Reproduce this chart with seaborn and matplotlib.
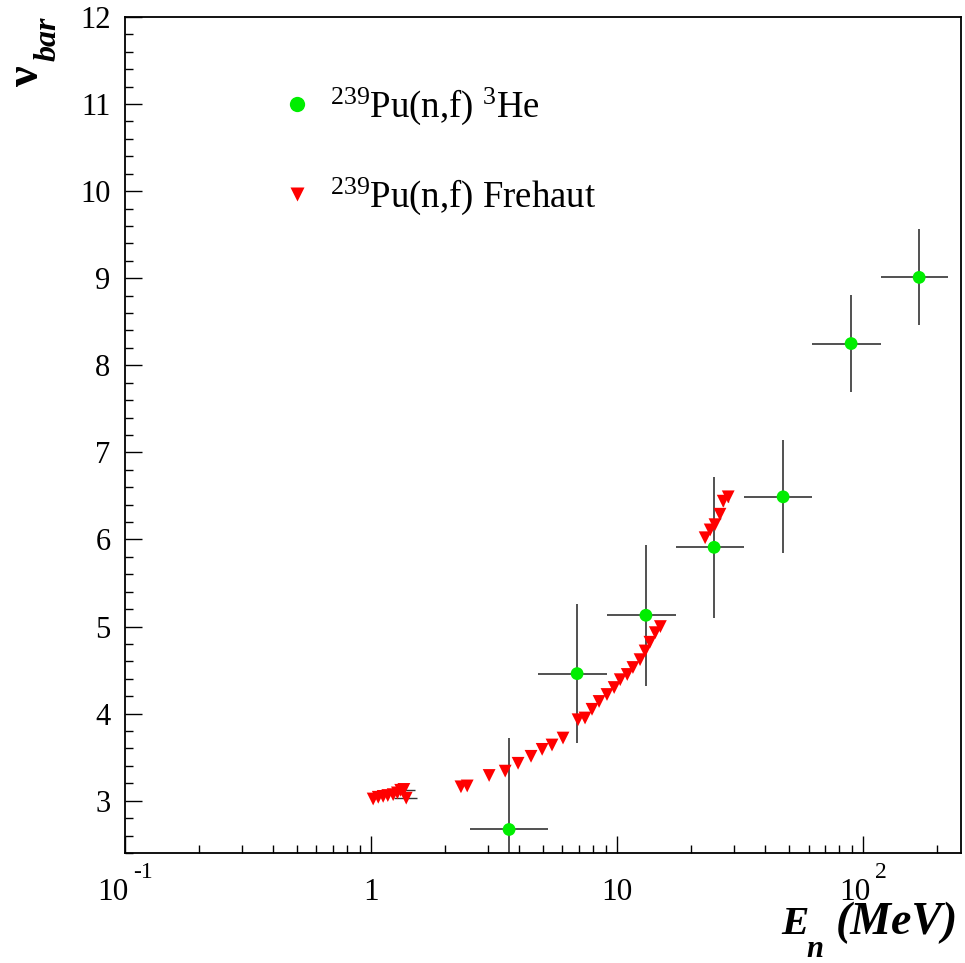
import numpy as np
import pandas as pd
import seaborn as sns
import matplotlib
matplotlib.use("Agg")
import matplotlib.pyplot as plt
import matplotlib.transforms as mtransforms
from matplotlib.lines import Line2D
from matplotlib.ticker import FixedLocator, LogLocator, MultipleLocator, NullFormatter

# ---------------- data ----------------
he3_E = [3.64, 6.88, 13.1, 24.8, 47.3, 89.4, 169.0]
he3_E_lo = [2.53, 4.77, 9.10, 17.4, 32.8, 62.1, 118.0]
he3_E_hi = [5.24, 9.10, 17.4, 32.8, 62.1, 118.0, 222.0]
he3_nu = [2.67, 4.46, 5.13, 5.91, 6.49, 8.25, 9.01]
he3_nu_err = [1.05, 0.80, 0.81, 0.81, 0.65, 0.56, 0.55]

fre_E = [1.02, 1.07, 1.12, 1.17, 1.23, 1.28, 1.32, 1.36, 1.39,
         2.32, 2.46, 3.02, 3.51, 3.96, 4.47, 4.96, 5.44, 6.03,
         6.94, 7.41, 7.91, 8.45, 9.10, 9.73, 10.3, 11.0, 11.6,
         12.4, 13.0, 13.6, 14.3, 15.0,
         22.8, 23.9, 25.0, 26.2, 27.0, 28.3]
fre_nu = [3.02, 3.04, 3.05, 3.06, 3.07, 3.09, 3.12, 3.13, 3.03,
          3.16, 3.17, 3.29, 3.34, 3.43, 3.51, 3.59, 3.64, 3.72,
          3.93, 3.95, 4.05, 4.14, 4.22, 4.30, 4.39, 4.45, 4.53,
          4.62, 4.72, 4.82, 4.93, 5.00,
          6.02, 6.11, 6.17, 6.29, 6.44, 6.49]
# a few Frehaut points carry small visible error bars
fre_err_E = [1.36, 1.39, 26.2, 27.0, 28.3]
fre_err_nu = [3.12, 3.03, 6.29, 6.44, 6.49]
fre_err_dE = [0.15, 0.15, 0.0, 0.0, 0.0]
fre_err_dnu = [0.0, 0.0, 0.06, 0.06, 0.06]

series_labels = [r"$^{239}$Pu(n,f) $^{3}$He", r"$^{239}$Pu(n,f) Frehaut"]

xtick_vals = [0.1, 1, 10, 100]
xtick_base = ["10", "1", "10", "10"]
xtick_exp = ["-1", "", "", "2"]
ytick_vals = [3, 4, 5, 6, 7, 8, 9, 10, 11, 12]

# ---------------- style ----------------
sns.set_style("ticks")
plt.rcParams["font.family"] = ["Liberation Serif", "DejaVu Serif"]
plt.rcParams["mathtext.fontset"] = "custom"
plt.rcParams["mathtext.rm"] = "Liberation Serif"
plt.rcParams["mathtext.it"] = "Liberation Serif:italic"
plt.rcParams["mathtext.bf"] = "Liberation Serif:bold"
plt.rcParams["text.color"] = "black"
plt.rcParams["xtick.color"] = "black"
plt.rcParams["ytick.color"] = "black"

W, H = 965, 963
fig = plt.figure(figsize=(W / 100, H / 100), dpi=100)
fig.patch.set_facecolor("white")
ax = fig.add_axes([125 / W, 1 - 853 / H, 836 / W, 836 / H])

GREEN = "#00ee00"
RED = "#ff0000"

df = pd.concat([
    pd.DataFrame({"E": he3_E, "nu": he3_nu, "series": series_labels[0]}),
    pd.DataFrame({"E": fre_E, "nu": fre_nu, "series": series_labels[1]}),
], ignore_index=True)

# error bars under markers
ax.errorbar(he3_E, he3_nu,
            xerr=[np.array(he3_E) - np.array(he3_E_lo), np.array(he3_E_hi) - np.array(he3_E)],
            yerr=he3_nu_err, fmt="none", ecolor="#222222", elinewidth=1.1, capsize=0, zorder=2)
ax.errorbar(fre_err_E, fre_err_nu, xerr=fre_err_dE, yerr=fre_err_dnu, fmt="none",
            ecolor="#333333", elinewidth=1.0, capsize=0, zorder=2)

sns.scatterplot(data=df, x="E", y="nu", hue="series", style="series",
                markers={series_labels[0]: "o", series_labels[1]: "v"},
                palette={series_labels[0]: GREEN, series_labels[1]: RED},
                s=85, edgecolor="none", linewidth=0, legend=False, ax=ax, zorder=3)

ax.set_xscale("log")
ax.set_xlim(0.1, 250)
ax.set_ylim(2.4, 12)
ax.set_xlabel("")
ax.set_ylabel("")

for sp in ax.spines.values():
    sp.set_linewidth(1.3)
    sp.set_color("black")
    sp.set_visible(True)

ax.xaxis.set_major_locator(FixedLocator(xtick_vals))
ax.xaxis.set_minor_locator(LogLocator(base=10, subs=np.arange(2, 10)))
ax.xaxis.set_minor_formatter(NullFormatter())
ax.yaxis.set_major_locator(FixedLocator(ytick_vals))
ax.yaxis.set_minor_locator(MultipleLocator(0.2))
ax.tick_params(which="both", direction="in", top=False, right=False, width=1.0, color="black")
ax.tick_params(which="major", length=12)
ax.tick_params(which="minor", length=6)
ax.tick_params(axis="x", labelbottom=False)
ax.tick_params(axis="y", labelsize=22, pad=10.5, labelcolor="black")
ax.set_yticklabels([str(v) for v in ytick_vals])

# x tick labels, ROOT-like "10^n" built from base + raised exponent
trans = mtransforms.blended_transform_factory(ax.transData, ax.transAxes)
fig.canvas.draw()
renderer = fig.canvas.get_renderer()
base_y = -47 / 836
for v, b, e in zip(xtick_vals, xtick_base, xtick_exp):
    tb = ax.text(v, base_y, b, transform=trans, ha="left", va="baseline", fontsize=22.5)
    wb = tb.get_window_extent(renderer).width
    if e:
        te = ax.text(v, base_y, e, transform=trans, ha="left", va="baseline", fontsize=17)
        we = te.get_window_extent(renderer).width
        gap = 4
        total = wb + gap + we
        left = -total / 2
        tb.set_transform(trans + mtransforms.ScaledTranslation(left / 100, 0, fig.dpi_scale_trans))
        te.set_transform(trans + mtransforms.ScaledTranslation((left + wb + gap) / 100, 22 / 100,
                                                               fig.dpi_scale_trans))
    else:
        tb.set_ha("center")

# axis titles (ROOT style, bold italic)
fig.text(958 / W, 1 - 934 / H, "(MeV)", ha="right", va="baseline", fontsize=33,
         fontweight="bold", fontstyle="italic")
fig.text(781 / W, 1 - 934 / H, "E", ha="left", va="baseline", fontsize=29.5,
         fontweight="bold", fontstyle="italic")
fig.text(806 / W, 1 - 957 / H, "n", ha="left", va="baseline", fontsize=22,
         fontweight="bold", fontstyle="italic")

fig.text(38 / W, 1 - 86 / H, "ν", rotation=90, rotation_mode="anchor", ha="left",
         va="baseline", fontsize=33, fontweight="bold")
fig.text(56 / W, 1 - 61 / H, "bar", rotation=90, rotation_mode="anchor", ha="left",
         va="baseline", fontsize=23, fontweight="bold", fontstyle="italic")

handles = [
    Line2D([], [], linestyle="none", marker="o", markerfacecolor=GREEN, markeredgecolor="none", markersize=11),
    Line2D([], [], linestyle="none", marker="v", markerfacecolor=RED, markeredgecolor="none", markersize=10.5),
]
ax.legend(handles, series_labels, loc="upper left", bbox_to_anchor=((278.6 - 125) / 836, (853 - 86) / 836),
          frameon=False, fontsize=26.5, handlelength=1.0, handletextpad=0.4, labelspacing=1.3,
          borderpad=0, borderaxespad=0)

fig.savefig("out.png", dpi=100, facecolor="white")
